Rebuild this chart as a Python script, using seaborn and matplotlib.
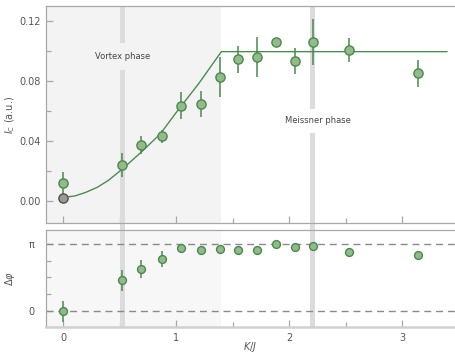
import numpy as np
import pandas as pd
import matplotlib
matplotlib.use('Agg')
import matplotlib.pyplot as plt
import seaborn as sns

# --- data ---
kj = [0.0, 0.52, 0.69, 0.87, 1.04, 1.22, 1.39, 1.55, 1.72, 1.88, 2.05, 2.21, 2.53, 3.14]
ic = [0.0114, 0.0240, 0.0370, 0.0428, 0.0633, 0.0644, 0.0824, 0.0945, 0.0958, 0.1058,
      0.0933, 0.1058, 0.1009, 0.0851]
ic_err = [0.0080, 0.0080, 0.0060, 0.0045, 0.0090, 0.0085, 0.0135, 0.0090, 0.0135, 0.0015,
          0.0085, 0.0155, 0.0080, 0.0090]
ic_ref_x = [0.0]
ic_ref_y = [0.0016]

dphi = [0.0, 0.456, 0.624, 0.768, 0.93, 0.906, 0.92, 0.90, 0.91, 1.0, 0.955, 0.966, 0.872, 0.828]  # units of pi
dphi_err = [0.15, 0.15, 0.13, 0.12, 0.06, 0.05, 0.05, 0.05, 0.04, 0.05, 0.04, 0.03, 0.06, 0.03]

curve_x = [0.0, 0.1, 0.2, 0.3, 0.4, 0.53, 0.7, 0.86, 1.0, 1.2, 1.4, 3.4]
curve_y = [0.0022, 0.0030, 0.0055, 0.0088, 0.0135, 0.0215, 0.033, 0.0446, 0.0588, 0.0782, 0.0995, 0.0995]

bar_positions = [0.525, 2.21]
vortex_edge = 1.4

df = pd.DataFrame({'kj': kj, 'ic': ic, 'ic_err': ic_err,
                   'dphi': np.array(dphi) * np.pi, 'dphi_err': np.array(dphi_err) * np.pi})
curve = pd.DataFrame({'x': curve_x, 'y': curve_y})

sns.set_style('ticks')
plt.rcParams['font.family'] = ['DejaVu Sans']

green_fill = '#93b98c'
green_edge = '#4d874f'
line_green = '#4f8a52'
spine_c = '#a8a8a8'
text_c = '#555555'

fig = plt.figure(figsize=(4.56, 3.53), dpi=100)
ax1 = fig.add_axes([0.1009, 0.3683, 0.897, 0.6147])
ax2 = fig.add_axes([0.1009, 0.0737, 0.897, 0.2748])

xlim = (-0.153, 3.47)
bw = 0.022

# ---- top panel ----
ax1.axvspan(xlim[0], vortex_edge, color='#f3f3f3', zorder=0, lw=0)
for bx in bar_positions:
    ax1.axvspan(bx - bw, bx + bw, ymin=-0.033, ymax=1, color='#dcdcdc', lw=0,
                zorder=1, clip_on=False)
sns.lineplot(data=curve, x='x', y='y', ax=ax1, color=line_green, lw=1.0, zorder=3)
ax1.errorbar(df['kj'], df['ic'], yerr=df['ic_err'], fmt='none', ecolor=green_edge,
             elinewidth=1.1, capsize=0, zorder=4)
sns.scatterplot(data=df, x='kj', y='ic', ax=ax1, s=44, color=green_fill,
                edgecolor=green_edge, linewidth=1.0, zorder=5)
ax1.scatter(ic_ref_x, ic_ref_y, s=44, color='#9a9b8e', edgecolor='#4f4f4f',
            linewidth=1.0, zorder=6)
ax1.text(0.53, 0.0962, 'Vortex phase', ha='center', va='center', fontsize=6,
         color='#444444', zorder=2,
         bbox=dict(boxstyle='square,pad=1.1', fc='#f3f3f3', ec='none'))
ax1.text(2.255, 0.0534, 'Meissner phase', ha='center', va='center', fontsize=6,
         color='#444444', zorder=2,
         bbox=dict(boxstyle='square,pad=0.9', fc='white', ec='none'))
ax1.set_xlim(*xlim)
ax1.set_ylim(-0.015, 0.13)
ax1.set_yticks([0.0, 0.04, 0.08, 0.12])
ax1.set_yticklabels(['0.00', '0.04', '0.08', '0.12'])
ax1.set_yticks([0.02, 0.06, 0.10], minor=True)
ax1.set_xticks([0, 1, 2, 3])
ax1.set_xticks([0.5, 1.5, 2.5], minor=True)
ax1.tick_params(axis='x', labelbottom=False)
ax1.set_xlabel('')
ax1.set_ylabel(r'$I_{\mathrm{C}}$ (a.u.)', fontsize=7, color=text_c)
ax1.yaxis.set_label_coords(-0.072, 0.5)

# ---- bottom panel ----
ax2.axvspan(xlim[0], vortex_edge, color='#f7f7f7', zorder=0, lw=0)
for bx in bar_positions:
    ax2.axvspan(bx - bw, bx + bw, color='#dcdcdc', lw=0, zorder=1)
for yv in [0, np.pi]:
    ax2.axhline(yv, color='#8a8a8a', lw=1.0, ls=(0, (5, 3.5)), zorder=2)
ax2.errorbar(df['kj'], df['dphi'], yerr=df['dphi_err'], fmt='none', ecolor=green_edge,
             elinewidth=1.1, capsize=0, zorder=4)
sns.scatterplot(data=df, x='kj', y='dphi', ax=ax2, s=32, color=green_fill,
                edgecolor=green_edge, linewidth=1.0, zorder=5)
ax2.set_xlim(*xlim)
ax2.set_ylim(-0.23 * np.pi, 1.2 * np.pi)
ax2.set_yticks([0, np.pi])
ax2.set_yticklabels(['0', 'π'])
ax2.set_yticks([0.25 * np.pi, 0.5 * np.pi, 0.75 * np.pi], minor=True)
ax2.set_xticks([0, 1, 2, 3])
ax2.set_xticklabels(['0', '1', '2', '3'])
ax2.set_xticks([0.5, 1.5, 2.5], minor=True)
ax2.set_xlabel(r'$K/J$', fontsize=7, color=text_c)
ax2.xaxis.set_label_coords(0.5, -0.135)
ax2.set_ylabel(r'$\Delta\varphi$', fontsize=7, color=text_c)
ax2.yaxis.set_label_coords(-0.072, 0.5)

for ax in (ax1, ax2):
    for side in ('left', 'top', 'bottom'):
        ax.spines[side].set_color(spine_c)
        ax.spines[side].set_linewidth(0.9)
    ax.spines['right'].set_visible(False)
    ax.tick_params(which='both', direction='in', color=spine_c, width=0.9,
                   labelsize=7, labelcolor=text_c, pad=4)
    ax.tick_params(which='major', length=5)
    ax.tick_params(which='minor', length=3.5)
    ax.tick_params(axis='y', which='both', right=False)
    ax.tick_params(axis='x', which='both', top=False)
ax2.spines['bottom'].set_linewidth(1.8)
ax2.spines['bottom'].set_color('#d0d0d0')
ax2.tick_params(axis='y', pad=8)

fig.savefig('out.png', dpi=100)
